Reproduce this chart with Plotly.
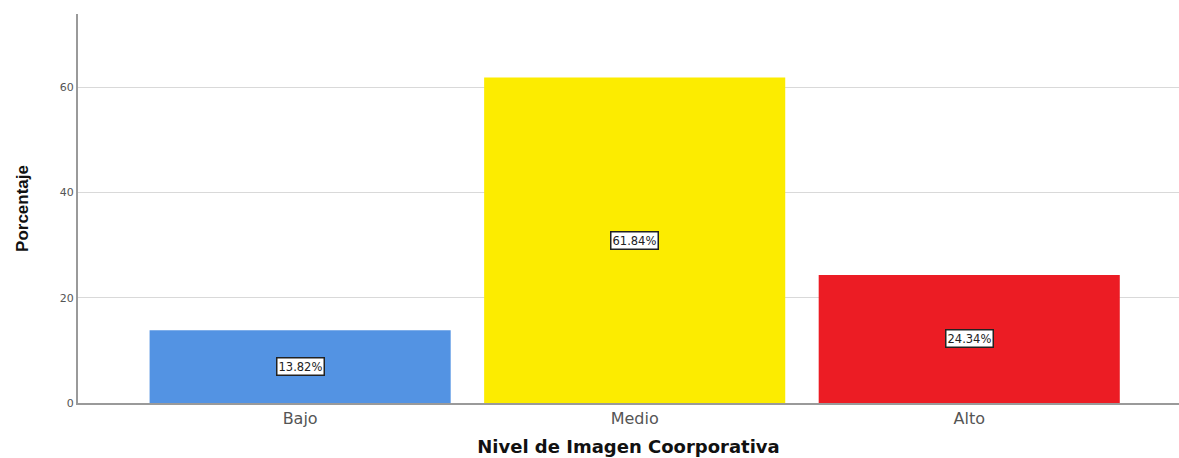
import plotly.graph_objects as go

categories = ["Bajo", "Medio", "Alto"]
percentages = [13.82, 61.84, 24.34]
bar_colors = ["#5393E3", "#FCEC00", "#EC1C24"]
y_ticks = [0, 20, 40, 60]

fig = go.Figure()
fig.add_trace(go.Bar(
    x=categories, y=percentages,
    marker=dict(color=bar_colors, line=dict(width=0)),
    width=0.9,
    hoverinfo="skip",
))

for c, v in zip(categories, percentages):
    fig.add_annotation(
        x=c, y=v / 2, text=f"{v:.2f}%", showarrow=False,
        font=dict(family="DejaVu Sans, sans-serif", size=11.5, color="#222"),
        bgcolor="white", bordercolor="#222", borderwidth=1.5, borderpad=1,
    )

fig.update_layout(
    width=1179, height=458,
    margin=dict(l=78, r=0, t=14, b=55),
    plot_bgcolor="white", paper_bgcolor="white",
    showlegend=False,
    bargap=0.1,
    xaxis=dict(
        range=[-0.664, 2.627],
        showline=True, linecolor="#9a9a9a", linewidth=2,
        ticks="", showgrid=False,
        tickfont=dict(family="DejaVu Sans, sans-serif", size=16, color="#555"),
        title=dict(text="<b>Nivel de Imagen Coorporativa</b>", standoff=13,
                   font=dict(family="DejaVu Sans, sans-serif", size=18, color="#111")),
    ),
    yaxis=dict(
        range=[0, 73.9],
        tickvals=y_ticks,
        showline=True, linecolor="#9a9a9a", linewidth=2,
        showgrid=True, gridcolor="#d9d9d9", gridwidth=1,
        zeroline=False,
        ticks="", ticklen=0,
        tickfont=dict(family="DejaVu Sans, sans-serif", size=11, color="#555"),
        title=dict(text="<b>Porcentaje</b>", standoff=27,
                   font=dict(family="Liberation Sans, sans-serif", size=17, color="#111")),
    ),
)

fig.write_html("out.html")
